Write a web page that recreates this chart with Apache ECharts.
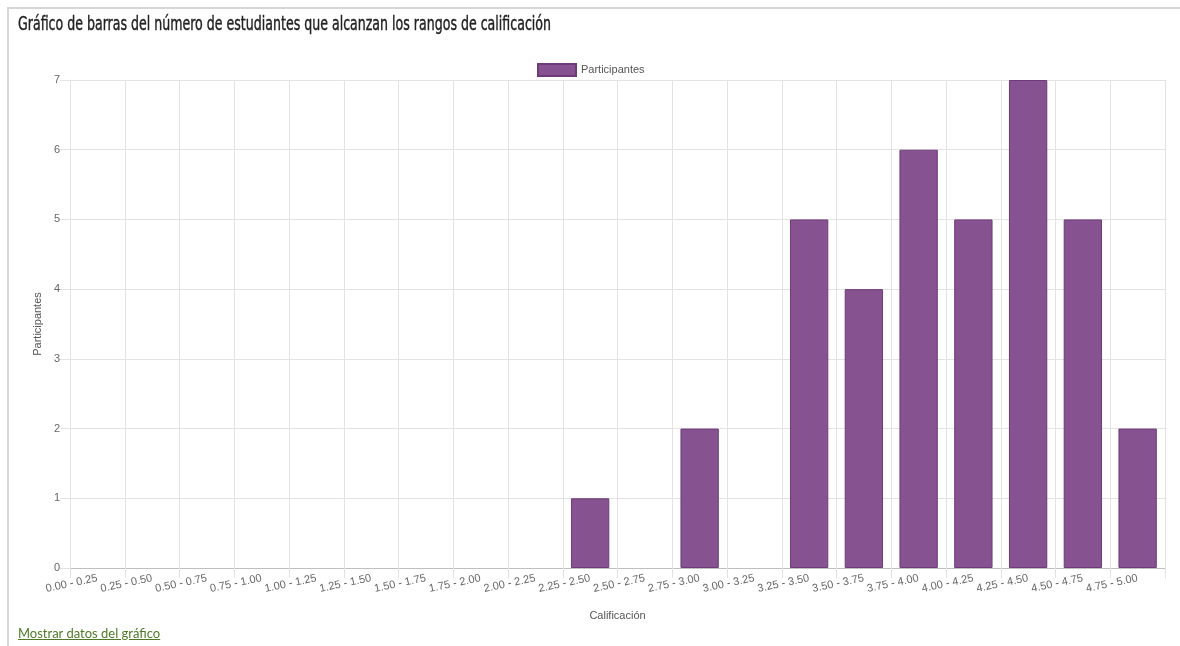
<!DOCTYPE html>
<html>
<head>
<meta charset="utf-8">
<script src="https://cdn.jsdelivr.net/npm/echarts@6/dist/echarts.min.js"></script>
<style>
  html, body { margin: 0; padding: 0; background: #fff; width: 1180px; height: 646px; overflow: hidden; }
  #frame { position: absolute; left: 7px; top: 7px; width: 1180px; height: 646px; border-top: 2px solid #d6d6d6; border-left: 2px solid #d6d6d6; }
  #title { position: absolute; left: 18px; top: 12px; font-family: "DejaVu Sans Condensed", "DejaVu Sans", sans-serif; font-stretch: condensed; font-size: 19px; color: #222; -webkit-text-stroke: 0.4px #222; white-space: nowrap; transform-origin: 0 0; }
  #chart { position: absolute; left: 0; top: 0; width: 1180px; height: 646px; }
  #link { position: absolute; left: 18px; top: 625px; font-family: Lato, "Open Sans", sans-serif; font-size: 13px; color: #4e7a26; text-decoration: underline; white-space: nowrap; }
</style>
</head>
<body>
<div id="frame"></div>
<div id="chart"></div>
<div id="title">Gráfico de barras del número de estudiantes que alcanzan los rangos de calificación</div>
<a id="link" href="#">Mostrar datos del gráfico</a>
<script>
const categories = ["0.00 - 0.25","0.25 - 0.50","0.50 - 0.75","0.75 - 1.00","1.00 - 1.25","1.25 - 1.50","1.50 - 1.75","1.75 - 2.00","2.00 - 2.25","2.25 - 2.50","2.50 - 2.75","2.75 - 3.00","3.00 - 3.25","3.25 - 3.50","3.50 - 3.75","3.75 - 4.00","4.00 - 4.25","4.25 - 4.50","4.50 - 4.75","4.75 - 5.00"];
const participantes = [0,0,0,0,0,0,0,0,0,1,0,2,0,5,4,6,5,7,5,2];
const seriesName = "Participantes";
const xAxisName = "Calificación";
const yAxisName = "Participantes";

// fit the condensed title to the reference width
const t = document.getElementById('title');
const w = t.getBoundingClientRect().width;
t.style.transform = 'scaleX(' + (533 / w) + ')';

const chart = echarts.init(document.getElementById('chart'));
const font = '"Liberation Sans", Arial, sans-serif';
chart.setOption({
  animation: false,
  legend: {
    top: 58, left: 532,
    icon: 'rect',
    itemWidth: 38, itemHeight: 12, itemGap: 10,
    textStyle: { fontFamily: font, fontSize: 11, color: '#555' },
    data: [seriesName]
  },
  grid: { left: 70, right: 15, top: 80, bottom: 78, containLabel: false },
  xAxis: {
    type: 'category',
    data: categories,
    name: xAxisName,
    nameLocation: 'middle',
    nameGap: 42,
    nameTextStyle: { fontFamily: font, fontSize: 11, color: '#555' },
    axisLine: { lineStyle: { color: '#bfbfbf' } },
    axisTick: { show: true, length: 10, lineStyle: { color: '#e3e3e3' } },
    axisLabel: { rotate: 12, margin: 10, fontFamily: font, fontSize: 11, color: '#666', interval: 0 },
    splitLine: { show: true, lineStyle: { color: '#e3e3e3' } }
  },
  yAxis: {
    type: 'value',
    min: 0, max: 7, interval: 1,
    name: yAxisName,
    nameLocation: 'middle',
    nameGap: 26,
    nameTextStyle: { fontFamily: font, fontSize: 11, color: '#555' },
    axisLine: { show: true, lineStyle: { color: '#e3e3e3' } },
    axisTick: { show: true, length: 10, lineStyle: { color: '#e3e3e3' } },
    axisLabel: { margin: 10, fontFamily: font, fontSize: 11, color: '#666' },
    splitLine: { show: true, lineStyle: { color: '#e3e3e3' } }
  },
  series: [{
    name: seriesName,
    type: 'bar',
    data: participantes.map(v => v === 0 ? { value: v, itemStyle: { borderWidth: 0 } } : v),
    barWidth: '70%',
    itemStyle: { color: '#86528f', borderColor: '#6e3a79', borderWidth: 1 }
  }]
});
</script>
</body>
</html>
